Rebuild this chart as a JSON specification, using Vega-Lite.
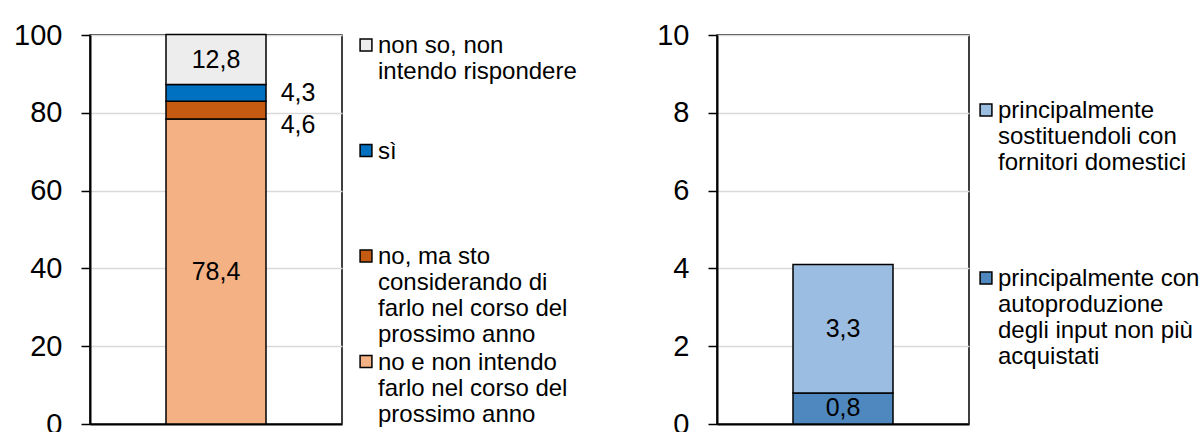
{
  "$schema": "https://vega.github.io/schema/vega-lite/v6.json",
  "padding": {"left": 12, "top": 20, "right": 0, "bottom": 0},
  "config": {
    "font": "Liberation Sans",
    "locale": {"number": {"decimal": ",", "thousands": ".", "grouping": [3], "currency": ["", " €"]}},
    "view": {"stroke": "black", "strokeWidth": 1.5},
    "axisY": {
      "grid": true, "gridColor": "#D9D9D9", "gridWidth": 1.5,
      "domainColor": "black", "domainWidth": 2,
      "tickColor": "black", "tickWidth": 1.5, "tickSize": 9,
      "labelFontSize": 29, "labelColor": "black", "labelPadding": 19,
      "title": null
    },
    "axisX": {
      "labels": false, "ticks": false, "grid": false, "title": null,
      "domainColor": "black", "domainWidth": 2
    },
    "legend": {
      "title": null, "labelFontSize": 24, "labelColor": "black", "labelLimit": 400,
      "labelLineHeight": 25.5, "labelBaseline": "top", "labelOffset": 0,
      "symbolType": "square", "symbolSize": 140, "symbolStrokeColor": "black",
      "symbolStrokeWidth": 1.5, "symbolOpacity": 1
    }
  },
  "spacing": 77,
  "resolve": {"scale": {"color": "independent"}},
  "hconcat": [
    {
      "width": 252,
      "height": 389,
      "data": {"values": [
        {"grp": "a", "cat": "no e non intendo farlo nel corso del prossimo anno", "v": 78.4, "ord": 1},
        {"grp": "a", "cat": "no, ma sto considerando di farlo nel corso del prossimo anno", "v": 4.6, "ord": 2},
        {"grp": "a", "cat": "sì", "v": 4.3, "ord": 3},
        {"grp": "a", "cat": "non so, non intendo rispondere", "v": 12.8, "ord": 4}
      ]},
      "transform": [
        {"stack": "v", "groupby": ["grp"], "sort": [{"field": "ord"}], "as": ["y0", "y1"]},
        {"calculate": "(datum.y0 + datum.y1) / 2", "as": "ym"}
      ],
      "layer": [
        {
          "mark": {"type": "bar", "width": 100, "stroke": "black", "strokeWidth": 1.5},
          "encoding": {
            "x": {"field": "grp", "type": "nominal"},
            "y": {"field": "y0", "type": "quantitative", "scale": {"domain": [0, 100]}, "axis": {"values": [0, 20, 40, 60, 80, 100]}},
            "y2": {"field": "y1"},
            "color": {
              "field": "cat", "type": "nominal",
              "scale": {
                "domain": ["non so, non intendo rispondere", "sì", "no, ma sto considerando di farlo nel corso del prossimo anno", "no e non intendo farlo nel corso del prossimo anno"],
                "range": ["#EDEDED", "#0070C0", "#C55A11", "#F4B183"]
              },
              "legend": {
                "orient": "none", "legendX": 264, "legendY": -2, "rowPadding": 2.5,
                "labelExpr": "datum.label == 'sì' ? ['sì','','',''] : datum.label == 'non so, non intendo rispondere' ? ['non so, non','intendo rispondere','',''] : datum.label == 'no e non intendo farlo nel corso del prossimo anno' ? ['no e non intendo','farlo nel corso del','prossimo anno',''] : ['no, ma sto','considerando di','farlo nel corso del','prossimo anno']",
                "encode": {"labels": {"update": {"dy": {"value": -11}}}}
              }
            }
          }
        },
        {
          "transform": [{"filter": "datum.v > 10"}],
          "mark": {"type": "text", "fontSize": 25, "color": "black", "baseline": "middle", "align": "center"},
          "encoding": {
            "x": {"field": "grp", "type": "nominal"},
            "y": {"field": "ym", "type": "quantitative"},
            "text": {"field": "v", "type": "quantitative", "format": ".1f"}
          }
        },
        {
          "transform": [{"filter": "datum.cat == 'sì'"}],
          "mark": {"type": "text", "fontSize": 25, "color": "black", "baseline": "middle", "align": "center", "dx": 82},
          "encoding": {
            "x": {"field": "grp", "type": "nominal"},
            "y": {"field": "ym", "type": "quantitative"},
            "text": {"field": "v", "type": "quantitative", "format": ".1f"}
          }
        },
        {
          "transform": [{"filter": "datum.ord == 2"}],
          "mark": {"type": "text", "fontSize": 25, "color": "black", "baseline": "middle", "align": "center", "dx": 82, "dy": 15},
          "encoding": {
            "x": {"field": "grp", "type": "nominal"},
            "y": {"field": "ym", "type": "quantitative"},
            "text": {"field": "v", "type": "quantitative", "format": ".1f"}
          }
        }
      ]
    },
    {
      "width": 252,
      "height": 389,
      "data": {"values": [
        {"grp": "a", "cat": "principalmente con autoproduzione degli input non più acquistati", "v": 0.8, "ord": 1},
        {"grp": "a", "cat": "principalmente sostituendoli con fornitori domestici", "v": 3.3, "ord": 2}
      ]},
      "transform": [
        {"stack": "v", "groupby": ["grp"], "sort": [{"field": "ord"}], "as": ["y0", "y1"]},
        {"calculate": "(datum.y0 + datum.y1) / 2", "as": "ym"}
      ],
      "layer": [
        {
          "mark": {"type": "bar", "width": 100, "stroke": "black", "strokeWidth": 1.5},
          "encoding": {
            "x": {"field": "grp", "type": "nominal"},
            "y": {"field": "y0", "type": "quantitative", "scale": {"domain": [0, 10]}, "axis": {"values": [0, 2, 4, 6, 8, 10]}},
            "y2": {"field": "y1"},
            "color": {
              "field": "cat", "type": "nominal",
              "scale": {
                "domain": ["principalmente sostituendoli con fornitori domestici", "principalmente con autoproduzione degli input non più acquistati"],
                "range": ["#9BBDE1", "#4F88BF"]
              },
              "legend": {
                "orient": "none", "legendX": 257, "legendY": 63, "rowPadding": 65,
                "labelExpr": "datum.label == 'principalmente sostituendoli con fornitori domestici' ? ['principalmente','sostituendoli con','fornitori domestici',''] : ['principalmente con','autoproduzione','degli input non più','acquistati']",
                "encode": {"labels": {"update": {"dy": {"value": -11}}}}
              }
            }
          }
        },
        {
          "mark": {"type": "text", "fontSize": 25, "color": "black", "baseline": "middle", "align": "center"},
          "encoding": {
            "x": {"field": "grp", "type": "nominal"},
            "y": {"field": "ym", "type": "quantitative"},
            "text": {"field": "v", "type": "quantitative", "format": ".1f"}
          }
        }
      ]
    }
  ]
}
